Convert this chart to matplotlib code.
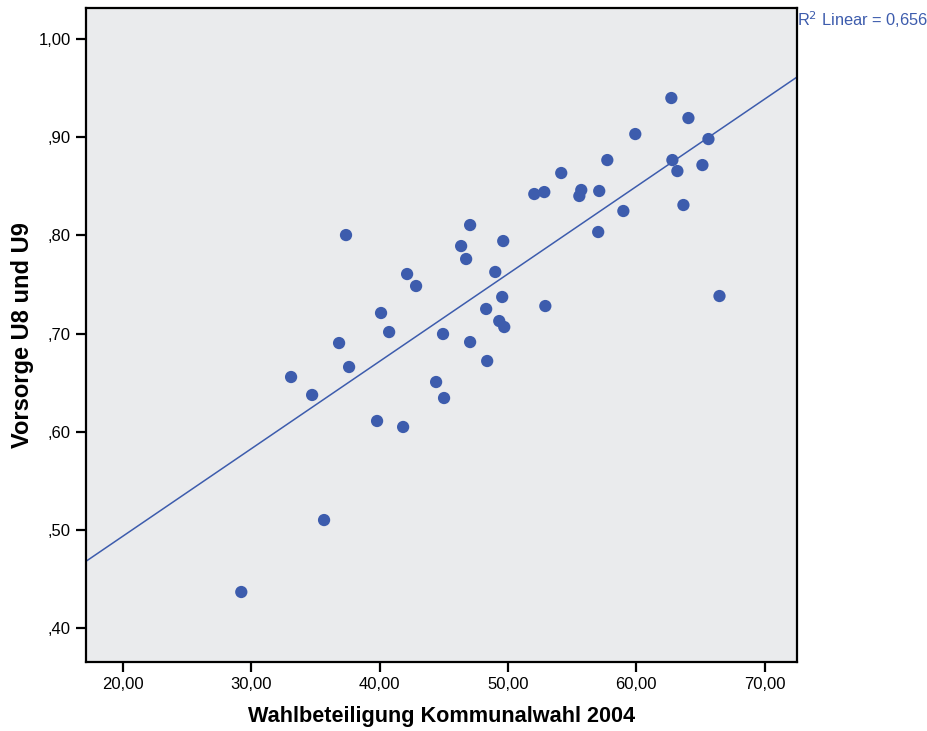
import numpy as np
import matplotlib
matplotlib.use("Agg")
import matplotlib.pyplot as plt
from matplotlib.ticker import FuncFormatter

plt.rcParams['font.family'] = ['Liberation Sans', 'DejaVu Sans']

# Wahlbeteiligung Kommunalwahl 2004 (x) and Vorsorge U8 und U9 (y)
wahlbeteiligung = [33.10, 34.74, 36.84, 37.38, 37.62, 35.67, 29.22, 39.80, 40.11, 40.74,
                   41.83, 42.14, 42.84, 44.40, 44.94, 45.02, 46.35, 46.74, 47.05, 47.05,
                   48.30, 48.38, 49.01, 49.32, 49.55, 49.71, 49.63, 52.05, 52.83, 52.91,
                   54.15, 55.56, 55.71, 57.11, 57.03, 57.74, 58.99, 59.92, 62.73, 62.81,
                   63.20, 63.67, 64.06, 65.15, 65.62, 66.48]
vorsorge = [0.6557, 0.6374, 0.6903, 0.8003, 0.6659, 0.5100, 0.4367, 0.6109, 0.7209, 0.7015,
            0.6048, 0.7606, 0.7484, 0.6506, 0.6995, 0.6343, 0.7891, 0.7759, 0.8105, 0.6913,
            0.7250, 0.6720, 0.7627, 0.7127, 0.7372, 0.7066, 0.7942, 0.8421, 0.8441, 0.7280,
            0.8635, 0.8401, 0.8462, 0.8452, 0.8034, 0.8767, 0.8248, 0.9032, 0.9399, 0.8767,
            0.8655, 0.8309, 0.9195, 0.8716, 0.8981, 0.7382]
x_ticks = [20, 30, 40, 50, 60, 70]
y_ticks = [0.40, 0.50, 0.60, 0.70, 0.80, 0.90, 1.00]
r2_label = "R$^2$ Linear = 0,656"

blue = "#3D5CAD"

fig = plt.figure(figsize=(9.28, 7.31), dpi=100)
ax = fig.add_axes([86/928, 1-662/731, (797-86)/928, (662-8)/731])
ax.set_facecolor("#EAEBED")

x = np.array(wahlbeteiligung)
y = np.array(vorsorge)
ax.scatter(x, y, s=78, color=blue, edgecolors='none', zorder=3)

xmin, xmax = 17.12, 72.52
slope, intercept = np.polyfit(x, y, 1)
xl = np.array([xmin, xmax])
ax.plot(xl, slope*xl + intercept, color=blue, lw=1.1, zorder=2)

ax.set_xlim(xmin, xmax)
ax.set_ylim(0.3654, 1.0316)
ax.set_xticks(x_ticks)
ax.set_yticks(y_ticks)
ax.xaxis.set_major_formatter(FuncFormatter(lambda v, p: f"{v:.2f}".replace('.', ',')))
ax.yaxis.set_major_formatter(FuncFormatter(lambda v, p: (f"{v:.2f}".replace('.', ',')).lstrip('0') if v < 1 else f"{v:.2f}".replace('.', ',')))
ax.tick_params(axis='both', direction='out', length=7, width=1.6, color='black', labelsize=12, pad=4)
for s in ax.spines.values():
    s.set_linewidth(1.6)
    s.set_color('black')

ax.set_xlabel("Wahlbeteiligung Kommunalwahl 2004", fontsize=15.6, fontweight='bold', labelpad=10)
ax.set_ylabel("Vorsorge U8 und U9", fontsize=17, fontweight='bold', labelpad=3)

fig.text(797/928, 1-20/731, r2_label, color=blue, fontsize=11.8, ha='left', va='center')

fig.savefig("out.png", dpi=100)
